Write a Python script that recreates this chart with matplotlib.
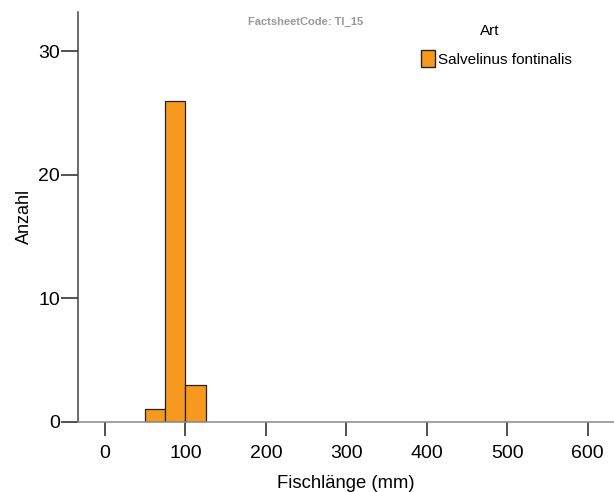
import matplotlib
matplotlib.use('Agg')
import matplotlib.pyplot as plt
from matplotlib.patches import Patch

plt.rcParams['font.family'] = ['Liberation Sans', 'DejaVu Sans']

# histogram bins (mm) and counts
bin_edges = [50, 75, 100, 125]
counts = [1, 26, 3]
species = 'Salvelinus fontinalis'
x_ticks = [0, 100, 200, 300, 400, 500, 600]
y_ticks = [0, 10, 20, 30]

fig = plt.figure(figsize=(6.14, 4.92), dpi=100)
ax = fig.add_axes([0.1275, 0.1429, 0.8725, 0.8327])

lefts = bin_edges[:-1]
widths = [b - a for a, b in zip(bin_edges[:-1], bin_edges[1:])]
ax.bar(lefts, counts, width=widths, align='edge', color='#F7991F',
       edgecolor='#222222', linewidth=0.9)

ax.set_xlim(-33.2, 632.7)
ax.set_ylim(0, 33.2)
ax.set_xticks(x_ticks)
ax.set_yticks(y_ticks)
ax.tick_params(axis='both', direction='out', labelsize=14, colors='#333333',
               labelcolor='black')
ax.tick_params(axis='y', length=12, width=1.2, pad=1)
ax.tick_params(axis='x', length=10, width=1.2, pad=7)

for side in ['top', 'right']:
    ax.spines[side].set_visible(False)
ax.spines['left'].set_color('#444444')
ax.spines['bottom'].set_color('#888888')
ax.spines['left'].set_linewidth(1.1)
ax.spines['bottom'].set_linewidth(1.1)

ax.set_xlabel('Fischlänge (mm)', fontsize=13.3, labelpad=9)
ax.set_ylabel('Anzahl', fontsize=13, labelpad=4)

fig.text(0.498, 0.955, 'FactsheetCode: TI_15', fontsize=8, color='#999999',
         fontweight='bold', ha='center', va='center')

# legend title placed on its own, entry below it
fig.text(0.798, 0.938, 'Art', fontsize=11, ha='center', va='center')
leg = ax.legend(handles=[Patch(facecolor='#F7991F', edgecolor='#222222',
                               label=species)],
                loc='upper left', bbox_to_anchor=(0.615, 0.94),
                frameon=False, fontsize=11,
                handlelength=0.9, handleheight=1.3, handletextpad=0.15)

plt.savefig('out.png', dpi=100)
